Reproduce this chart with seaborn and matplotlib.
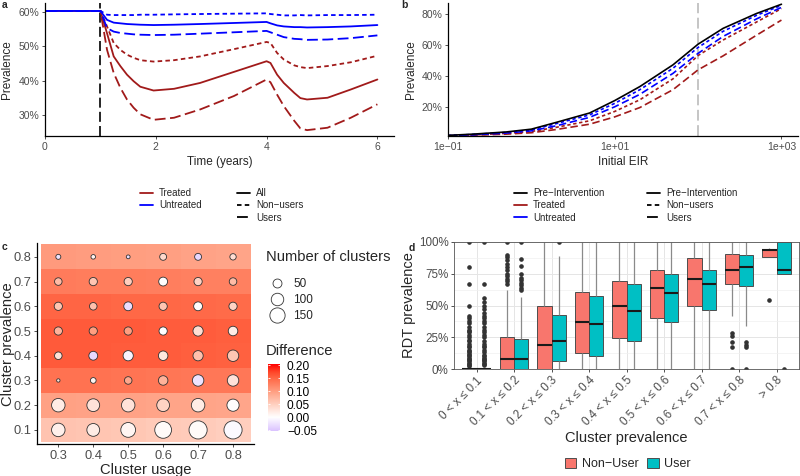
import numpy as np
import pandas as pd
import matplotlib
matplotlib.use("Agg")
import matplotlib.pyplot as plt
import seaborn as sns
from matplotlib.colors import LinearSegmentedColormap, Normalize
from matplotlib.lines import Line2D
from matplotlib.patches import Patch
from matplotlib.ticker import FuncFormatter, MultipleLocator

# ---- panel a: prevalence over time (percent) ----
time_years = [0, 1, 1.12, 1.24, 1.36, 1.48, 1.6, 1.72, 1.96, 2.33, 2.8, 3.41, 4.0, 4.07, 4.19, 4.31, 4.5, 4.61, 4.73, 5.1, 5.52, 6.0]
treated_all = [60.3, 60.3, 53.8, 47.1, 44.3, 41.8, 39.9, 38.3, 37.2, 37.7, 39.4, 42.6, 45.7, 45.2, 41.8, 39.4, 36.5, 35.0, 34.6, 35.1, 37.5, 40.4]
treated_non = [60.3, 60.3, 55.8, 51.0, 49.0, 47.6, 46.7, 46.0, 45.6, 46.0, 47.1, 49.2, 51.3, 51.0, 48.1, 46.2, 44.5, 44.0, 43.7, 44.3, 45.4, 47.3]
treated_users = [60.3, 60.3, 49.0, 42.3, 38.0, 34.6, 32.2, 30.3, 28.7, 29.3, 31.7, 35.6, 40.4, 39.6, 36.0, 32.7, 28.4, 26.2, 25.7, 26.4, 29.3, 33.2]
untreated_all = [60.3, 60.3, 57.7, 56.9, 56.7, 56.5, 56.4, 56.3, 56.2, 56.3, 56.5, 56.8, 57.1, 56.7, 56.1, 55.8, 55.6, 55.6, 55.5, 55.6, 55.8, 56.2]
untreated_non = [60.3, 60.3, 59.2, 59.1, 59.1, 59.1, 59.1, 59.2, 59.2, 59.3, 59.4, 59.5, 59.6, 59.4, 59.2, 59.0, 59.0, 59.1, 59.0, 59.1, 59.1, 59.2]
untreated_users = [60.3, 60.3, 55.3, 54.3, 53.9, 53.7, 53.5, 53.4, 53.3, 53.4, 53.7, 54.1, 54.5, 54.1, 53.4, 52.7, 52.2, 52.1, 51.9, 52.0, 52.4, 53.2]

# ---- panel b: prevalence vs initial EIR (percent) ----
eir = [0.1, 0.2, 0.5, 1, 2, 5, 10, 20, 50, 100, 200, 500, 1000]
pre_intervention = [1.6, 2.4, 3.8, 5.6, 10, 16, 24, 33, 47, 60.3, 70.5, 80, 86]
eir_untreated_non = [1.5, 2.2, 3.5, 5.1, 9.2, 14.8, 22.2, 31, 44.8, 58.2, 68.6, 78.8, 85.3]
eir_untreated_users = [1.4, 2.0, 3.1, 4.5, 7.8, 13.2, 20, 28, 41.5, 54.4, 65.3, 76.5, 84]
eir_treated_non = [1.4, 1.9, 2.9, 4.1, 6.8, 11, 17, 24.5, 38, 53, 63, 74.5, 83.2]
eir_treated_users = [1.3, 1.7, 2.4, 3.3, 5.4, 8.8, 13.5, 19.5, 31, 43.8, 52.8, 66, 75.8]

# ---- panel c: difference by cluster usage / prevalence ----
usage = [0.3, 0.4, 0.5, 0.6, 0.7, 0.8]
cluster_prev = [0.1, 0.2, 0.3, 0.4, 0.5, 0.6, 0.7, 0.8]
tile_diff = [
    [0.062, 0.060, 0.058, 0.055, 0.053, 0.050],
    [0.097, 0.096, 0.095, 0.094, 0.093, 0.092],
    [0.140, 0.140, 0.138, 0.137, 0.136, 0.135],
    [0.160, 0.160, 0.158, 0.157, 0.156, 0.155],
    [0.160, 0.160, 0.159, 0.158, 0.157, 0.156],
    [0.152, 0.151, 0.150, 0.149, 0.148, 0.147],
    [0.132, 0.131, 0.130, 0.129, 0.128, 0.127],
    [0.103, 0.102, 0.100, 0.098, 0.096, 0.094],
]
point_diff = [
    [0.015, 0.020, 0.010, 0.005, 0.005, -0.005],
    [0.020, 0.030, 0.030, 0.045, 0.020, 0.000],
    [0.030, 0.010, 0.090, 0.080, -0.025, 0.030],
    [0.030, -0.035, -0.010, 0.025, 0.065, 0.060],
    [0.080, 0.100, 0.100, 0.000, 0.035, 0.020],
    [0.060, 0.065, -0.030, 0.060, 0.000, 0.045],
    [0.070, 0.060, 0.050, 0.000, 0.045, 0.070],
    [-0.025, 0.010, -0.030, 0.040, -0.035, 0.035],
]
n_clusters = [
    [117, 105, 141, 182, 213, 213],
    [117, 105, 117, 105, 117, 95],
    [5, 19, 35, 57, 84, 84],
    [35, 49, 66, 57, 66, 84],
    [42, 42, 42, 42, 66, 57],
    [42, 35, 49, 42, 49, 42],
    [35, 42, 42, 49, 42, 35],
    [14, 11, 7, 29, 29, 24],
]

# ---- panel d: RDT prevalence boxplots (whisker low, Q1, median, Q3, whisker high) ----
rdt_bins = ["0 < x \u2264 0.1", "0.1 < x \u2264 0.2", "0.2 < x \u2264 0.3", "0.3 < x \u2264 0.4",
            "0.4 < x \u2264 0.5", "0.5 < x \u2264 0.6", "0.6 < x \u2264 0.7", "0.7 < x \u2264 0.8", "> 0.8"]
nonuser_box = [(0, 0, 0, 0, 0), (0, 0, 8, 25, 62), (0, 0, 19, 50, 100), (0, 12.9, 36.8, 61, 100),
               (0, 24.2, 50, 69.2, 100), (0, 40, 63.7, 77.9, 100), (0, 50, 70.8, 87.4, 100),
               (41.8, 66.6, 77.9, 90.3, 100), (88.2, 88.2, 93.4, 94.2, 95)]
user_box = [(0, 0, 0, 0, 0), (0, 0, 8, 24, 57), (0, 6, 22, 42.5, 89), (0, 10.3, 35.3, 57.6, 100),
            (0, 22.1, 45.3, 66.6, 100), (0, 37.4, 60, 75, 100), (0, 46.8, 66.6, 78.2, 100),
            (33.7, 65.3, 80, 89.5, 100), (75, 75, 78.2, 100, 100)]
nonuser_outliers = [
    [2, 3, 4, 5, 6, 7, 8, 9, 10, 11, 12, 13, 14, 15, 17, 18, 20, 22, 23, 25, 27, 29, 30, 31, 33, 36, 38, 40, 42, 50, 67, 80, 100],
    [67, 69, 71, 73, 75, 78, 80, 83, 86, 88, 90, 100], [], [], [], [], [],
    [28, 26, 21, 17, 0], [54]]
user_outliers = [
    [3, 4, 5, 6, 7, 8, 9, 10, 11, 13, 15, 17, 18, 20, 22, 25, 27, 29, 31, 33, 36, 38, 40, 42, 44, 47, 50, 53, 56, 67, 100],
    [62, 64, 66, 68, 70, 72, 75, 81, 87, 100], [100], [], [], [], [],
    [21, 19, 17, 0], [0]]

DARKRED = "#A11A1A"
BLUE = "#0000FF"
GREY_TXT = "#4D4D4D"

sns.set_theme(style="white")
plt.rcParams["font.family"] = ["Liberation Sans", "DejaVu Sans"]

fig = plt.figure(figsize=(8, 4.76), dpi=100)


def px_axes(left, top, right, bottom):
    return fig.add_axes([left / 800, 1 - bottom / 476, (right - left) / 800, (bottom - top) / 476])


def classic(ax, size):
    for side in ["top", "right"]:
        ax.spines[side].set_visible(False)
    for side in ["left", "bottom"]:
        ax.spines[side].set_color("black")
        ax.spines[side].set_linewidth(0.9)
    ax.tick_params(axis="both", which="major", length=2.5, width=0.6, color="#333333",
                   labelcolor=GREY_TXT, labelsize=size, pad=1.5, left=True, bottom=True)
    ax.grid(False)


pct = FuncFormatter(lambda v, p: f"{v:.0f}%")
dash_map = {"All": "", "Non-users": (2.5, 1.8), "Users": (6, 2.5)}

# ---------------- panel a ----------------
ax_a = px_axes(45, 3, 394, 136)
a_rows = []
for net, use, vals in [("Treated", "All", treated_all), ("Treated", "Non-users", treated_non),
                       ("Treated", "Users", treated_users), ("Untreated", "All", untreated_all),
                       ("Untreated", "Non-users", untreated_non), ("Untreated", "Users", untreated_users)]:
    a_rows.append(pd.DataFrame({"time": time_years, "prev": vals, "net": net, "use": use}))
a_df = pd.concat(a_rows, ignore_index=True)
ax_a.axvline(1, color="black", lw=1.2, linestyle=(0, (6, 2.5)))
sns.lineplot(data=a_df, x="time", y="prev", hue="net", style="use",
             palette={"Treated": DARKRED, "Untreated": BLUE}, dashes=dash_map,
             hue_order=["Treated", "Untreated"], style_order=["All", "Non-users", "Users"],
             linewidth=1.3, legend=False, estimator=None, ax=ax_a)
ax_a.set_xlim(0, 6.3)
ax_a.set_ylim(24, 62.6)
ax_a.set_xticks([0, 2, 4, 6])
ax_a.set_yticks([30, 40, 50, 60])
ax_a.yaxis.set_major_formatter(pct)
classic(ax_a, 7.5)
ax_a.set_xlabel("Time (years)", fontsize=8.5, labelpad=3)
ax_a.set_ylabel("Prevalence", fontsize=8.5, labelpad=4)

# ---------------- panel b ----------------
ax_b = px_axes(448, 3, 798, 136)
b_rows = []
for grp, use, vals in [("Pre-Intervention", "Pre-Intervention", pre_intervention),
                       ("Treated", "Non-users", eir_treated_non), ("Treated", "Users", eir_treated_users),
                       ("Untreated", "Non-users", eir_untreated_non), ("Untreated", "Users", eir_untreated_users)]:
    b_rows.append(pd.DataFrame({"eir": eir, "prev": vals, "grp": grp, "use": use}))
b_df = pd.concat(b_rows, ignore_index=True)
ax_b.axvline(100, color="#C0C0C0", lw=1.3, linestyle=(0, (6, 2.5)))
sns.lineplot(data=b_df, x="eir", y="prev", hue="grp", style="use",
             palette={"Pre-Intervention": "black", "Treated": DARKRED, "Untreated": BLUE},
             dashes={"Pre-Intervention": "", "Non-users": (2.0, 1.6), "Users": (4.5, 2.2)},
             hue_order=["Treated", "Untreated", "Pre-Intervention"],
             linewidth=1.2, legend=False, estimator=None, ax=ax_b)
ax_b.set_xscale("log")
ax_b.set_xlim(0.1, 1580)
ax_b.set_ylim(1.2, 86.8)
ax_b.set_xticks([0.1, 10, 1000])
ax_b.set_xticklabels(["1e\u221201", "1e+01", "1e+03"])
ax_b.xaxis.set_minor_locator(matplotlib.ticker.NullLocator())
ax_b.set_yticks([20, 40, 60, 80])
ax_b.yaxis.set_major_formatter(pct)
classic(ax_b, 7.5)
ax_b.set_xlabel("Initial EIR", fontsize=8.5, labelpad=3)
ax_b.set_ylabel("Prevalence", fontsize=8.5, labelpad=3)

# legends for a and b
leg_kw = dict(loc="upper left", frameon=False, fontsize=7, handlelength=1.35, handletextpad=0.6,
              labelspacing=0.25, borderaxespad=0, borderpad=0)
col_a = [Line2D([], [], color=DARKRED, lw=1.3), Line2D([], [], color=BLUE, lw=1.3)]
fig.legend(col_a, ["Treated", "Untreated"], bbox_to_anchor=(140 / 800, 1 - 188 / 476), **leg_kw)
lt_handles = [Line2D([], [], color="black", lw=1.3),
              Line2D([], [], color="black", lw=1.3, dashes=(2.5, 1.8)),
              Line2D([], [], color="black", lw=1.3, dashes=(6, 2.5))]
fig.legend(lt_handles, ["All", "Non\u2212users", "Users"], bbox_to_anchor=(237 / 800, 1 - 188 / 476), **leg_kw)
col_b = [Line2D([], [], color="black", lw=1.3), Line2D([], [], color=DARKRED, lw=1.3),
         Line2D([], [], color=BLUE, lw=1.3)]
fig.legend(col_b, ["Pre\u2212Intervention", "Treated", "Untreated"],
           bbox_to_anchor=(514 / 800, 1 - 188 / 476), **leg_kw)
fig.legend(lt_handles, ["Pre\u2212Intervention", "Non\u2212users", "Users"],
           bbox_to_anchor=(647 / 800, 1 - 188 / 476), **leg_kw)

# ---------------- panel c ----------------
diff_cmap = LinearSegmentedColormap.from_list("diff", [
    (0.0, "#0000FF"), (0.256, "#B58EFF"), (0.378, "#DDC6FF"), (0.5, "#FFFFFF"),
    (0.622, "#FFCFBF"), (0.744, "#FF9E81"), (0.866, "#FF6846"), (0.927, "#FF4527"), (1.0, "#FF0000")])
diff_norm = Normalize(-0.205, 0.205)

ax_c = px_axes(37, 243, 254, 444)
x_edges = np.append(np.array(usage) - 0.05, usage[-1] + 0.05)
y_edges = np.append(np.array(cluster_prev) - 0.05, cluster_prev[-1] + 0.05)
ax_c.pcolormesh(x_edges, y_edges, np.array(tile_diff), cmap=diff_cmap, norm=diff_norm, shading="flat")
uu, pp = np.meshgrid(usage, cluster_prev)
c_df = pd.DataFrame({"usage": uu.ravel(), "prev": pp.ravel(),
                     "diff": np.array(point_diff).ravel(), "n": np.array(n_clusters).ravel()})
SIZE_RANGE = (2, 176)
SIZE_NORM = (0, 220)
sns.scatterplot(data=c_df, x="usage", y="prev", hue="diff", size="n", palette=diff_cmap,
                hue_norm=diff_norm, sizes=SIZE_RANGE, size_norm=SIZE_NORM, edgecolor="#333333",
                linewidth=0.6, legend=False, ax=ax_c, zorder=3)
ax_c.set_xlim(0.239, 0.86)
ax_c.set_ylim(0.043, 0.856)
ax_c.set_xticks(usage)
ax_c.set_yticks(cluster_prev)
ax_c.xaxis.set_major_formatter(FuncFormatter(lambda v, p: f"{v:.1f}"))
ax_c.yaxis.set_major_formatter(FuncFormatter(lambda v, p: f"{v:.1f}"))
classic(ax_c, 9.3)
ax_c.set_xlabel("Cluster usage", fontsize=10.6, labelpad=1)
ax_c.set_ylabel("")
fig.text(8 / 800, 1 - 344 / 476, "Cluster prevalence", fontsize=10.6, rotation=90,
         ha="center", va="center")


def marker_size(n):
    return SIZE_RANGE[0] + (n - SIZE_NORM[0]) / (SIZE_NORM[1] - SIZE_NORM[0]) * (SIZE_RANGE[1] - SIZE_RANGE[0])


size_handles = [Line2D([], [], marker="o", linestyle="", markersize=np.sqrt(marker_size(v)),
                       markerfacecolor="white", markeredgecolor="#333333", markeredgewidth=0.6)
                for v in [50, 100, 150]]
fig.text(266 / 800, 1 - 257 / 476, "Number of clusters", fontsize=10.6, va="center", ha="left")
fig.legend(size_handles, ["50", "100", "150"], loc="upper left",
           bbox_to_anchor=(269 / 800, 1 - 278 / 476), frameon=False, fontsize=8.5,
           handlelength=1.4, handletextpad=0.66, labelspacing=0.35,
           borderaxespad=0, borderpad=0)

fig.text(266 / 800, 1 - 351 / 476, "Difference", fontsize=10.6, va="center", ha="left")
cax = px_axes(268, 364, 280, 431)
bar_vals = np.linspace(-0.053, 0.204, 256)
cax.imshow(bar_vals[:, None], cmap=diff_cmap, norm=diff_norm, aspect="auto", origin="lower",
           extent=(0, 1, -0.053, 0.204))
bar_ticks = [-0.05, 0.0, 0.05, 0.10, 0.15, 0.20]
cax.hlines(bar_ticks, 0, 0.2, color="white", lw=0.6)
cax.hlines(bar_ticks, 0.8, 1, color="white", lw=0.6)
cax.set_xticks([])
cax.yaxis.tick_right()
cax.set_yticks(bar_ticks)
cax.set_yticklabels([f"{t:.2f}".replace("-", "\u2212") for t in bar_ticks])
cax.tick_params(axis="y", length=0, labelsize=8.6, labelcolor="black", pad=5)
for s in cax.spines.values():
    s.set_visible(False)

# ---------------- panel d ----------------
d_rows = []
REPEAT = 100
for i, label in enumerate(rdt_bins):
    for grp, stats, outs in [("Non-User", nonuser_box[i], nonuser_outliers[i]),
                             ("User", user_box[i], user_outliers[i])]:
        vals = [v for v in stats for _ in range(REPEAT)] + list(outs)
        d_rows.append(pd.DataFrame({"bin": label, "group": grp, "rdt": vals}))
d_df = pd.concat(d_rows, ignore_index=True)

ax_d = px_axes(454, 242, 799, 369)
ax_d.set_axisbelow(True)
sns.boxplot(data=d_df, x="bin", y="rdt", hue="group", order=rdt_bins, hue_order=["Non-User", "User"],
            palette={"Non-User": "#F8766D", "User": "#00BFC4"}, saturation=1, width=0.75,
            linecolor="#4D4D4D", linewidth=0.7, whis=1.5, fliersize=2.3, legend=False, ax=ax_d,
            flierprops=dict(marker="o", markerfacecolor="#333333", markeredgecolor="#333333"),
            medianprops=dict(color="#1A1A1A", linewidth=1.5),
            whiskerprops=dict(color="#8A8A8A", linewidth=0.9),
            capprops=dict(linewidth=0))
ax_d.set_xlim(-0.6, 8.6)
ax_d.set_ylim(0, 100)
ax_d.set_yticks([0, 25, 50, 75, 100])
ax_d.yaxis.set_major_formatter(pct)
ax_d.yaxis.set_minor_locator(MultipleLocator(12.5))
ax_d.grid(True, which="major", color="#E5E5E5", lw=0.7)
ax_d.grid(True, which="minor", axis="y", color="#F0F0F0", lw=0.5)
for s in ax_d.spines.values():
    s.set_visible(True)
    s.set_color("#555555")
    s.set_linewidth(0.6)
ax_d.tick_params(axis="both", which="major", length=2.5, width=0.6, color="#333333",
                 labelcolor=GREY_TXT, labelsize=8.4, pad=1.5, left=True, bottom=True)
ax_d.tick_params(axis="y", which="minor", length=0)
ax_d.set_xticks(range(len(rdt_bins)))
ax_d.set_xticklabels(rdt_bins, rotation=45, ha="right", rotation_mode="anchor")
ax_d.set_xlabel("Cluster prevalence", fontsize=10.5, labelpad=2)
ax_d.set_ylabel("RDT prevalence", fontsize=10.5, labelpad=2)

d_handles = [Patch(facecolor="#F8766D", edgecolor="#4D4D4D", lw=0.7),
             Patch(facecolor="#00BFC4", edgecolor="#4D4D4D", lw=0.7)]
fig.legend(d_handles, ["Non\u2212User", "User"], loc="center", ncol=2,
           bbox_to_anchor=(628 / 800, 1 - 464 / 476), frameon=False, fontsize=9,
           handlelength=0.9, handleheight=0.8, handletextpad=0.45, columnspacing=0.7,
           borderaxespad=0, borderpad=0)

# panel letters
for letter, x, y in [("a", 2, 5), ("b", 401, 5), ("c", 2, 247), ("d", 409, 248)]:
    fig.text(x / 800, 1 - y / 476, letter, fontsize=7.5, fontweight="bold", va="center", ha="left")

fig.savefig("out.png", dpi=100)
